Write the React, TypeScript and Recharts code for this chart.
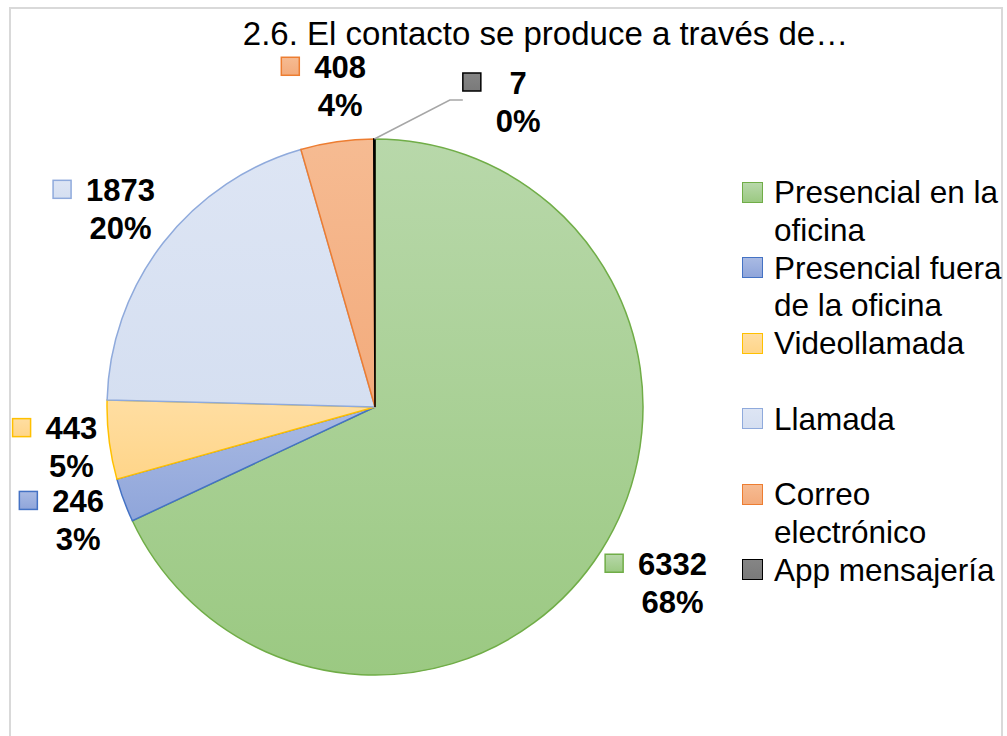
import * as React from "react";
import { PieChart, Pie, Cell, Legend } from "recharts";

// data
const categories = [
  "Presencial en la oficina",
  "Presencial fuera de la oficina",
  "Videollamada",
  "Llamada",
  "Correo electrónico",
  "App mensajería",
];
const counts = [6332, 246, 443, 1873, 408, 7];

const chartData = categories.map((name, i) => ({ name, value: counts[i] }));
const total = counts.reduce((a, b) => a + b, 0);

// styles
const fillTop = ["#b8d8aa", "#a9bae3", "#ffdea2", "#dde5f4", "#f6bb92", "#858585"];
const fillBottom = ["#9bc982", "#8fa5da", "#ffd589", "#d5dff1", "#f3ab7c", "#7a7a7a"];
const strokes = ["#70ad47", "#4472c4", "#ffc000", "#8faadc", "#ed7d31", "#000000"];
const labelNudge = [
  [25, 3],
  [6, 1],
  [17, 1],
  [1, 0],
  [11, -1],
  [144, 18],
];

const FONT = "'Liberation Sans', Arial, sans-serif";
const LABEL_FONT = 31;
const RADIAN = Math.PI / 180;

// rough Arial bold advance widths
const textWidth = (s: string) =>
  s.split("").reduce((w, ch) => w + (ch === "%" ? 0.889 : 0.556), 0) * LABEL_FONT;

function renderLabel(props: any) {
  const { cx, cy, midAngle, outerRadius, index } = props;
  const r = outerRadius + 55;
  const [nx, ny] = labelNudge[index];
  const bx = cx + r * Math.cos(-midAngle * RADIAN) + nx;
  const by = cy + r * Math.sin(-midAngle * RADIAN) + ny;
  const vy = by - 19;
  const py = by + 19;
  const valueText = String(counts[index]);
  const pctText = Math.round((counts[index] / total) * 100) + "%";
  const boxWidth = Math.max(textWidth(valueText), textWidth(pctText));
  const sqX = bx - boxWidth / 2 - 33;

  let leader = null;
  if (index === 5) {
    const ex = cx + outerRadius * Math.cos(-midAngle * RADIAN);
    const ey = cy + outerRadius * Math.sin(-midAngle * RADIAN);
    leader = (
      <polyline
        points={`${ex},${ey} ${sqX - 13},${by - 2} ${sqX},${by - 2}`}
        fill="none"
        stroke="#a6a6a6"
        strokeWidth={1.5}
      />
    );
  }

  return (
    <g>
      {leader}
      <rect
        x={sqX}
        y={vy - 10}
        width={18}
        height={18}
        fill={`url(#grad${index})`}
        stroke={strokes[index]}
        strokeWidth={1.5}
      />
      <text
        x={bx}
        y={vy}
        textAnchor="middle"
        dominantBaseline="central"
        fontFamily={FONT}
        fontWeight="bold"
        fontSize={LABEL_FONT}
        fill="#000"
      >
        {valueText}
      </text>
      <text
        x={bx}
        y={py}
        textAnchor="middle"
        dominantBaseline="central"
        fontFamily={FONT}
        fontWeight="bold"
        fontSize={LABEL_FONT}
        fill="#000"
      >
        {pctText}
      </text>
    </g>
  );
}

function renderLegend() {
  return (
    <div style={{ fontFamily: FONT, fontSize: 31.5, lineHeight: "37.75px", color: "#000" }}>
      {categories.map((name, i) => (
        <div
          key={name}
          style={{
            display: "flex",
            alignItems: "flex-start",
            height: i === categories.length - 1 ? 37.75 : 75.5,
          }}
        >
          <div
            style={{
              width: 21,
              height: 21,
              marginTop: 7.5,
              boxSizing: "border-box",
              background: `linear-gradient(${fillTop[i]}, ${fillBottom[i]})`,
              border: `1.5px solid ${strokes[i]}`,
              flex: "0 0 auto",
            }}
          />
          <div style={{ marginLeft: 11, width: 234 }}>{name}</div>
        </div>
      ))}
    </div>
  );
}

export default function App() {
  return (
    <div
      style={{
        position: "absolute",
        left: 0,
        top: 0,
        width: 1007,
        height: 736,
        overflow: "hidden",
        background: "#fff",
      }}
    >
      <div
        style={{
          position: "absolute",
          left: 9,
          top: 7,
          width: 994,
          height: 800,
          boxSizing: "border-box",
          border: "2px solid #d9d9d9",
        }}
      />
      <div
        style={{
          position: "absolute",
          left: 0,
          width: 1091,
          top: 20,
          textAlign: "center",
          fontFamily: FONT,
          fontSize: 33,
          lineHeight: "28px",
          color: "#000",
          whiteSpace: "nowrap",
        }}
      >
        2.6. El contacto se produce a través de…
      </div>
      <div style={{ position: "absolute", left: 0, top: 0 }}>
        <PieChart width={1007} height={736} margin={{ top: 0, right: 0, bottom: 0, left: 0 }}>
          <defs>
            {fillTop.map((c, i) => (
              <linearGradient key={i} id={`grad${i}`} x1="0" y1="0" x2="0" y2="1">
                <stop offset="0%" stopColor={c} />
                <stop offset="100%" stopColor={fillBottom[i]} />
              </linearGradient>
            ))}
          </defs>
          <Pie
            data={chartData}
            dataKey="value"
            nameKey="name"
            cx={375}
            cy={407}
            outerRadius={268}
            startAngle={90}
            endAngle={-270}
            label={renderLabel}
            labelLine={false}
            isAnimationActive={false}
          >
            {chartData.map((d, i) => (
              <Cell key={d.name} fill={`url(#grad${i})`} stroke={strokes[i]} strokeWidth={1.5} />
            ))}
          </Pie>
          <Legend
            content={renderLegend}
            wrapperStyle={{ left: 742, top: 174, width: 265 }}
          />
        </PieChart>
      </div>
    </div>
  );
}
